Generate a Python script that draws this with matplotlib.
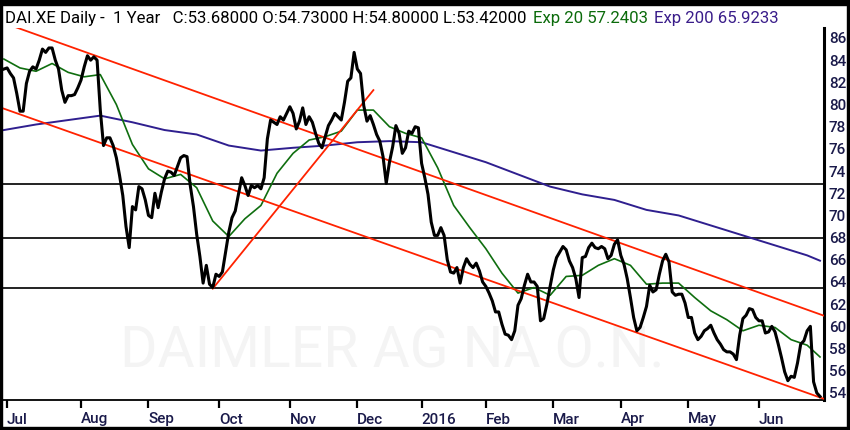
import numpy as np
import pandas as pd
import matplotlib
matplotlib.use("Agg")
import matplotlib.pyplot as plt
from matplotlib import font_manager as fm
from matplotlib.patches import Rectangle

# ---------------- data ----------------
start_date = "2015-06-30"
end_date = "2016-06-28"
holidays = ["2015-12-24", "2015-12-25", "2015-12-31", "2016-01-01",
            "2016-03-25", "2016-03-28"]

# daily close, one value per trading day
close = [
    83.2, 83.3, 82.8, 82.4, 81.0, 79.4, 79.4, 81.9, 83.0, 83.4,
    83.2, 84.0, 85.0, 84.7, 85.1, 85.1, 84.0, 83.2, 81.3, 80.2,
    80.8, 80.8, 80.9, 81.5, 82.2, 83.4, 84.4, 84.0, 84.3, 84.0,
    79.5, 76.3, 77.0, 77.0, 76.3, 75.2, 73.6, 71.8, 69.0, 67.1,
    70.8, 70.5, 72.6, 72.4, 71.4, 70.0, 69.8, 72.0, 70.7, 72.1,
    73.3, 74.0, 73.9, 73.6, 74.4, 75.2, 75.4, 75.3, 72.7, 70.8,
    68.3, 66.3, 63.9, 65.5, 63.8, 63.5, 64.7, 64.5, 64.9, 66.7,
    68.5, 69.8, 70.4, 71.9, 73.4, 72.7, 71.8, 72.7, 72.5, 72.7,
    72.4, 73.4, 76.9, 78.6, 78.4, 78.2, 78.9, 78.6, 79.2, 79.8,
    79.2, 77.8, 78.5, 79.7, 78.2, 78.9, 78.4, 77.4, 76.5, 76.1,
    77.1, 78.1, 78.6, 79.2, 78.9, 78.6, 80.2, 82.1, 82.4, 84.7,
    83.2, 82.8, 79.9, 78.5, 79.0, 78.2, 77.3, 76.7, 75.3, 72.9,
    74.8, 76.2, 78.1, 77.4, 75.6, 76.1, 77.6, 77.4, 78.0, 77.9,
    74.7, 73.4, 71.9, 69.4, 68.2, 68.2, 68.9, 68.2, 66.0, 64.9,
    64.8, 65.3, 63.9, 65.3, 66.1, 65.6, 65.3, 65.7, 65.0, 64.0,
    63.6, 63.0, 62.3, 61.3, 61.3, 60.2, 59.3, 59.2, 58.8, 59.6,
    61.9, 62.5, 63.7, 64.7, 64.0, 64.0, 63.6, 60.5, 60.7, 62.0,
    63.6, 65.1, 66.2, 66.7, 67.2, 66.9, 65.9, 65.3, 64.3, 62.6,
    66.2, 66.3, 67.1, 67.5, 67.1, 67.0, 67.2, 67.0, 66.1, 66.4,
    67.4, 67.8, 66.4, 65.6, 64.3, 62.6, 60.8, 59.6, 59.9, 60.8,
    61.8, 63.7, 63.1, 63.3, 64.7, 65.9, 66.5, 65.8, 63.1, 62.8,
    62.9, 62.9, 62.1, 60.8, 60.8, 59.4, 58.8, 59.1, 59.6, 59.8,
    60.1, 59.4, 58.8, 58.4, 57.9, 57.7, 57.7, 57.5, 57.0, 59.2,
    60.7, 61.0, 61.6, 61.5, 60.8, 60.5, 60.5, 59.4, 59.5, 60.0,
    59.5, 58.4, 57.2, 55.9, 55.1, 55.5, 55.4, 56.7, 58.4, 58.7,
    59.6, 60.0, 55.0, 54.0, 53.68,
]

# Exp 20 read every 5th trading day (plus last day)
ema20_every = 5
ema20 = [
    84.1, 83.3, 83.0, 83.7, 82.9, 82.5, 82.7, 80.0, 76.4, 74.2,
    73.3, 73.7, 72.5, 69.5, 68.1, 69.7, 70.9, 73.8, 75.6, 76.8,
    77.1, 77.6, 79.5, 79.5, 78.0, 77.4, 77.0, 74.3, 70.9, 68.9,
    67.0, 64.8, 63.0, 63.5, 62.8, 64.5, 64.6, 65.5, 66.1, 65.5,
    63.8, 63.9, 63.9, 62.6, 61.4, 60.6, 59.6, 60.1, 59.9, 58.8,
    58.3, 57.24,
]

# Exp 200 read every 10th trading day (plus last day)
ema200_every = 10
ema200 = [
    77.7, 78.2, 78.6, 79.0, 78.4, 77.7, 77.3, 76.3, 75.85, 76.1,
    76.3, 76.6, 76.7, 76.6, 75.7, 74.8, 73.7, 72.6, 71.9, 71.4,
    70.5, 70.0, 69.1, 68.2, 67.3, 66.4, 65.92,
]

# trend lines (date, price) anchors
channel_upper = [("2015-08-11", 84.25), ("2016-06-22", 61.5)]
channel_lower = [("2015-08-11", 76.55), ("2016-06-22", 54.0)]
rising_line = [("2015-09-29", 63.4), ("2015-12-08", 81.3)]
levels = [72.85, 68.0, 63.5]

yticks = list(range(54, 87, 2))
month_names = {1: "2016", 2: "Feb", 3: "Mar", 4: "Apr", 5: "May", 6: "Jun",
               7: "Jul", 8: "Aug", 9: "Sep", 10: "Oct", 11: "Nov", 12: "Dec"}

header_parts = [
    ("DAI.XE Daily -  1 Year   C:53.68000 O:54.73000 H:54.80000 L:53.42000", "#000000"),
    ("Exp 20 57.2403", "#0b6b0b"),
    ("Exp 200 65.9233", "#3a1d8a"),
]
watermark = "DAIMLER AG NA O.N."

# ---------------- fonts ----------------
names = {f.name for f in fm.fontManager.ttflist}


def pick(*cands):
    for c in cands:
        if c in names:
            return c
    return "DejaVu Sans"


FONT = pick("Roboto", "Open Sans", "DejaVu Sans")

# ---------------- figure ----------------
W, H = 850, 430
fig = plt.figure(figsize=(W / 100, H / 100), dpi=100)
fig.patch.set_facecolor("white")

px_left, px_right, px_top, px_bot = 3, 824, 28, 400
ax = fig.add_axes([px_left / W, 1 - px_bot / H,
                   (px_right - px_left) / W, (px_bot - px_top) / H])

dates = pd.bdate_range(start_date, end_date, freq="C", holidays=holidays)
n = min(len(dates), len(close))
dates = dates[:n]
xs = np.arange(n)
date_pos = {d.strftime("%Y-%m-%d"): i for i, d in enumerate(dates)}

px_per_day = 3.213
x0_px = 3.9
xlim = ((px_left - x0_px) / px_per_day, (px_right - x0_px) / px_per_day)
ax.set_xlim(*xlim)
ax.set_ylim(53.36, 86.9)

# watermark
ax.text((120 - px_left) / (px_right - px_left), (px_bot - 368) / (px_bot - px_top),
        watermark, transform=ax.transAxes, fontsize=41, color="#f4f4f4",
        family=FONT, va="baseline", ha="left", zorder=0.5)

# horizontal levels
for lv in levels:
    ax.axhline(lv, color="#111111", lw=1.3, zorder=1)

# EMA lines
e200_x = list(range(0, n - 1, ema200_every))[:len(ema200) - 1] + [n - 1]
e20_x = list(range(0, n - 1, ema20_every))[:len(ema20) - 1] + [n - 1]
ax.plot(e200_x, ema200, color="#2f1f8f", lw=1.4, zorder=2)
ax.plot(e20_x, ema20, color="#0f6e0f", lw=1.2, zorder=3)


# trend lines
def anchor_xy(anchors):
    return [date_pos[a[0]] for a in anchors], [a[1] for a in anchors]


for anchors in (channel_upper, channel_lower):
    ax_, ay_ = anchor_xy(anchors)
    slope = (ay_[1] - ay_[0]) / (ax_[1] - ax_[0])
    xe = np.array(xlim)
    ax.plot(xe, ay_[0] + slope * (xe - ax_[0]), color="#ff2200", lw=1.3, zorder=4)

rx, ry = anchor_xy(rising_line)
ax.plot(rx, ry, color="#ff2200", lw=1.3, zorder=4)

# price
ax.plot(xs, close[:n], color="#000000", lw=2.2, zorder=5, solid_joinstyle="round")

# axes styling
for s in ("top", "left"):
    ax.spines[s].set_visible(False)
ax.spines["right"].set_color("black")
ax.spines["right"].set_linewidth(2.2)
ax.spines["bottom"].set_color("black")
ax.spines["bottom"].set_linewidth(1.3)

ax.yaxis.tick_right()
ax.set_yticks(yticks)
ax.set_yticklabels([str(v) for v in yticks])
ax.tick_params(axis="y", length=0, pad=3.5, labelsize=11, labelcolor="#1a1a4a")
for lbl in ax.get_yticklabels():
    lbl.set_family(FONT)
    lbl.set_fontweight("medium")

mpos, mlab = [], []
for i in range(1, n):
    if dates[i].month != dates[i - 1].month:
        mpos.append(i)
        mlab.append(month_names[dates[i].month])
ax.set_xticks(mpos)
ax.set_xticklabels(mlab)
ax.tick_params(axis="x", direction="out", length=6, width=1.6, color="black",
               pad=3, labelsize=11, labelcolor="#1a1a4a")
for lbl in ax.get_xticklabels():
    lbl.set_ha("left")
    lbl.set_family(FONT)
    lbl.set_fontweight("medium")

# black frame
fig.patches.extend([
    Rectangle((0, 1 - 5 / H), 1, 5 / H, transform=fig.transFigure, color="black", zorder=10),
    Rectangle((0, 0), 2 / W, 1, transform=fig.transFigure, color="black", zorder=10),
    Rectangle((1 - 3 / W, 0), 3 / W, 1, transform=fig.transFigure, color="black", zorder=10),
    Rectangle((0, 0), 1, 3 / H, transform=fig.transFigure, color="black", zorder=10),
])

# header: lay out pieces, then fit the whole line to the reference width
renderer = fig.canvas.get_renderer()
dpi_scale = fig.dpi / 100.0
target_end = 777 * dpi_scale
start_x = 5 * dpi_scale


def layout_header(fs):
    texts = []
    xcur = start_x
    for txt, col in header_parts:
        t = fig.text(xcur / fig.bbox.width, 1 - 23 / H, txt, color=col, fontsize=fs,
                     family=FONT, va="baseline", ha="left")
        bb = t.get_window_extent(renderer)
        texts.append(t)
        xcur = bb.x1 + 6 * dpi_scale * fs / 12.0
    end = texts[-1].get_window_extent(renderer).x1
    return texts, end


fs = 12.0
texts, end = layout_header(fs)
if abs(end - target_end) > 3:
    for t in texts:
        t.remove()
    fs = fs * (target_end - start_x) / (end - start_x)
    texts, end = layout_header(fs)

fig.savefig("out.png", dpi=100, facecolor="white")
